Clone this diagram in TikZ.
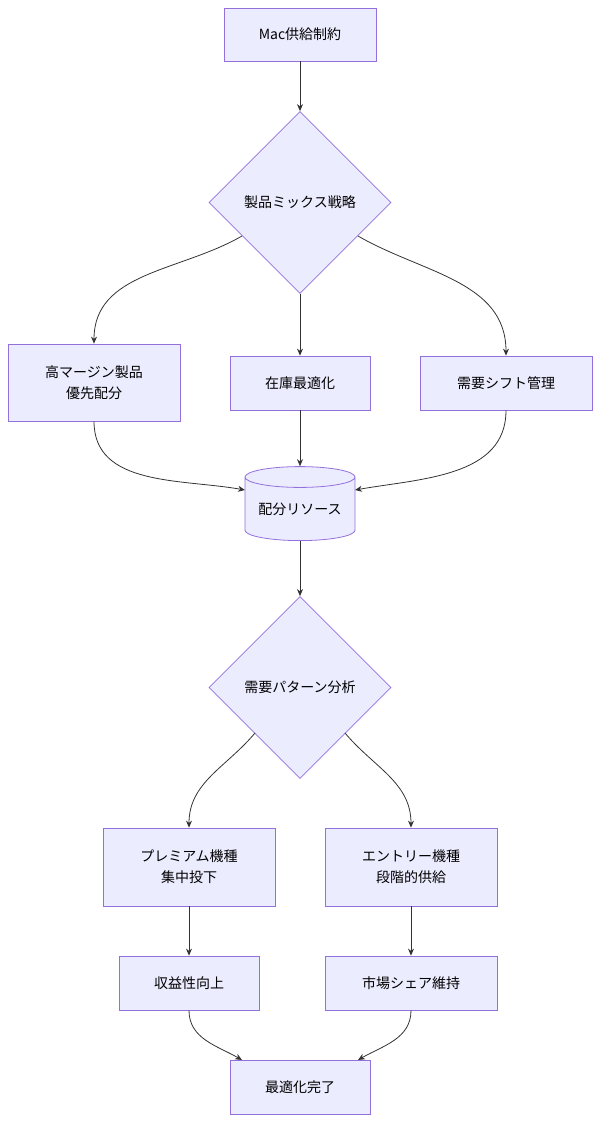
\documentclass[tikz,border=0pt]{standalone}
\usepackage{fontspec}
\setmainfont{Noto Sans CJK JP}
\usetikzlibrary{arrows.meta, shapes.geometric, positioning, calc}
\definecolor{boxfill}{HTML}{ECECFF}
\definecolor{boxline}{HTML}{9370DB}
\definecolor{edge}{HTML}{333333}
\tikzset{
  box/.style={rectangle, fill=boxfill, draw=boxline, line width=0.8pt, align=center, inner sep=0pt, font=\fontsize{14}{21}\selectfont},
  decision/.style={diamond, fill=boxfill, draw=boxline, line width=0.8pt, aspect=1, inner sep=0pt, minimum size=182pt, font=\fontsize{14}{21}\selectfont},
  store/.style={cylinder, shape border rotate=90, aspect=0.25, fill=boxfill, draw=boxline, line width=0.8pt, minimum width=110pt, minimum height=74pt, inner sep=0pt, font=\fontsize{14}{21}\selectfont},
  flow/.style={-{Stealth[length=7pt, width=6pt]}, edge, line width=0.8pt}
}
\begin{document}
\begin{tikzpicture}[x=1pt, y=-1pt]
      \useasboundingbox (0, 0) rectangle (600, 1122);

      \node[box, minimum width=152pt, minimum height=53pt] (supply) at (300, 34.5) {Mac供給制約};
      \node[decision] (mix) at (300, 202.5) {製品ミックス戦略};

      \node[box, minimum width=172pt, minimum height=77pt] (margin) at (94, 382.5) {高マージン製品\\優先配分};
      \node[box, minimum width=140pt, minimum height=54pt] (stock) at (300, 383) {在庫最適化};
      \node[box, minimum width=172pt, minimum height=54pt] (shift) at (506, 383) {需要シフト管理};

      \node[store] (res) at (300, 509) {配分リソース};
      \node[decision] (pattern) at (300, 687.5) {需要パターン分析};

      \node[box, minimum width=172pt, minimum height=78pt] (premium) at (189, 867) {プレミアム機種\\集中投下};
      \node[box, minimum width=172pt, minimum height=78pt] (entry) at (411, 867) {エントリー機種\\段階的供給};
      \node[box, minimum width=140pt, minimum height=54pt] (profit) at (189, 983) {収益性向上};
      \node[box, minimum width=172pt, minimum height=54pt] (share) at (411, 983) {市場シェア維持};
      \node[box, minimum width=140pt, minimum height=54pt] (done) at (300, 1087) {最適化完了};

      \draw[flow] (supply) -- (mix);
      \draw[flow] (mix) -- (stock);
      \draw[flow] (242, 236) to[out=-150, in=90] (margin.north);
      \draw[flow] (358, 236) to[out=-30, in=90] (shift.north);

      \draw[flow] (margin.south) to[out=-90, in=170] (245, 490);
      \draw[flow] (stock) -- (res.top);
      \draw[flow] (shift.south) to[out=-90, in=10] (355, 490);

      \draw[flow] (res) -- (pattern);
      \draw[flow] (255, 733) to[out=-130, in=90] (premium.north);
      \draw[flow] (345, 733) to[out=-50, in=90] (entry.north);

      \draw[flow] (premium) -- (profit);
      \draw[flow] (entry) -- (share);
      \draw[flow] (profit.south) to[out=-90, in=150] (242, 1060);
      \draw[flow] (share.south) to[out=-90, in=30] (358, 1060);

    \end{tikzpicture}
\end{document}
